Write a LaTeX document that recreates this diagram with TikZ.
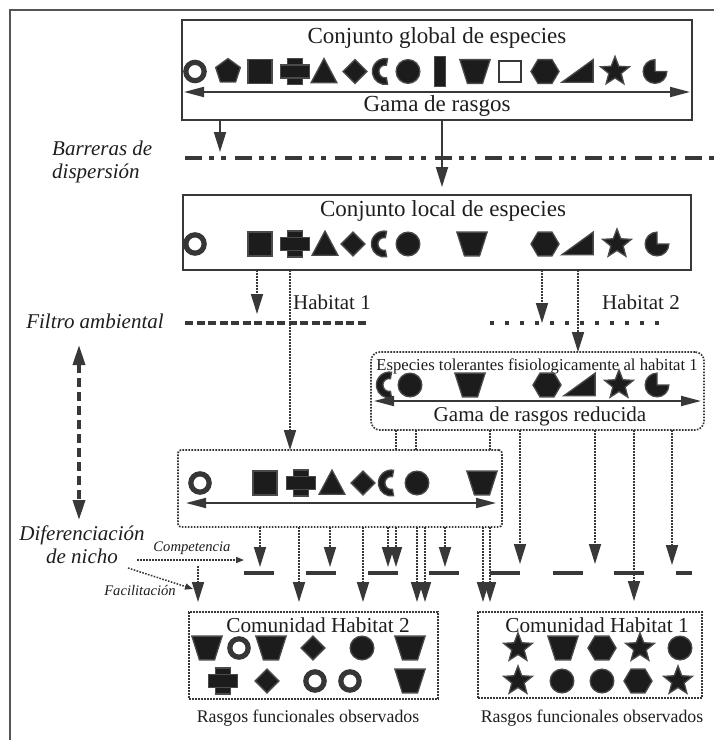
\documentclass[tikz,border=0pt]{standalone}
\usepackage{fontspec}
\setmainfont{Liberation Serif}
\usetikzlibrary{arrows.meta}
\definecolor{ln}{HTML}{383838}
\definecolor{shf}{HTML}{1C1C1C}
\definecolor{sho}{HTML}{4A4A4A}
\definecolor{ringc}{HTML}{363636}
\definecolor{txt}{HTML}{1E1E1E}
\definecolor{frm}{HTML}{555555}
\tikzset{
 every pic/.style={scale=1.08},
 shp/.style={fill=shf,draw=sho,line width=1.3pt,line join=miter},
 shRing/.pic={\draw[draw=ringc,line width=5.2pt,fill=white] (0,0) circle[radius=8.5];},
 shPent/.pic={\path[shp] (270:12)--(342:12)--(54:12)--(126:12)--(198:12)--cycle;},
 shSq/.pic={\path[shp] (-11,-11) rectangle (11,11);},
 shCross/.pic={\path[shp] (-7,-12)--(7,-12)--(7,-6)--(13.5,-6)--(13.5,6)--(7,6)--(7,12)--(-7,12)--(-7,6)--(-13.5,6)--(-13.5,-6)--(-7,-6)--cycle; \draw[draw=sho,line width=1.3pt] (-7,-6)--(7,-6) (-7,6)--(7,6);},
 shTri/.pic={\path[shp] (0,-12)--(12,10.5)--(-12,10.5)--cycle;},
 shDia/.pic={\path[shp] (0,-11)--(11,0)--(0,11)--(-11,0)--cycle;},
 shCres/.pic={\path[shp] (6.08,11.82) arc[start angle=80,end angle=280,radius=12] -- (5.04,-5.91) arc[start angle=280,end angle=80,radius=6] -- cycle;},
 shCirc/.pic={\path[shp] (0,0) circle[radius=11];},
 shTall/.pic={\path[shp] (-5,-14) rectangle (5,14);},
 shTrap/.pic={\path[shp] (-14,-11)--(14,-11)--(7,11)--(-7,11)--cycle;},
 shOsq/.pic={\draw[draw=ln,line width=2.2pt,fill=white] (-10,-10) rectangle (10,10);},
 shHex/.pic={\path[shp] (-13,0)--(-6.5,-11)--(6.5,-11)--(13,0)--(6.5,11)--(-6.5,11)--cycle;},
 shWedge/.pic={\path[shp] (-15,10)--(14,10)--(14,-11)--cycle;},
 shStar/.pic={\path[shp] (270:14)--(306:6)--(342:14)--(18:6)--(54:14)--(90:6)--(126:14)--(162:6)--(198:14)--(234:6)--cycle;},
 shPac/.pic={\path[shp] (0,0)--(11,0) arc[start angle=0,end angle=270,radius=11]--cycle;},
 box/.style={draw=ln,line width=2pt,inner sep=0pt,outer sep=0pt,anchor=north west},
 dbox/.style={draw=ln,line width=1.7pt,dash pattern=on 1.6pt off 1.4pt,inner sep=0pt,outer sep=0pt,anchor=north west},
 solarr/.style={draw=ln,line width=1.8pt,-{Triangle[length=20pt,width=12pt]}},
 dotarr/.style={draw=ln,line width=1.7pt,dash pattern=on 1.6pt off 1.4pt,-{Triangle[length=20pt,width=12pt]}},
 dotln/.style={draw=ln,line width=1.7pt,dash pattern=on 1.6pt off 1.4pt},
 smallarr/.style={draw=ln,line width=1.5pt,dash pattern=on 1.6pt off 1.4pt,-{Triangle[length=8pt,width=6pt]}},
 dbl/.style={draw=ln,line width=1.8pt,{Triangle[length=20pt,width=10pt]}-{Triangle[length=20pt,width=10pt]}},
 barline/.style={draw=ln,line width=3.8pt},
 ttl/.style={inner sep=0pt,text=txt,font=\fontsize{23}{27}\selectfont},
 hab/.style={inner sep=0pt,text=txt,font=\fontsize{21}{25}\selectfont},
 lbl/.style={inner sep=0pt,text=txt,font=\itshape\fontsize{21}{23}\selectfont},
 sml/.style={inner sep=0pt,text=txt,font=\fontsize{17.8}{21}\selectfont},
 tiny/.style={inner sep=0pt,text=txt,font=\itshape\fontsize{14.6}{17}\selectfont},
}
\begin{document}
\begin{tikzpicture}[x=1pt,y=-1pt]
\useasboundingbox (0,0) rectangle (714,740);
\fill[white] (0,0) rectangle (714,740);
\draw[line width=2pt,draw=frm] (10,740) -- (10,10) -- (714,10);

% ---------- global pool
\node[box,minimum width=510,minimum height=100] (glob) at (182,20) {};
\node[ttl] (globT) at (437,38) {Conjunto global de especies};
\pic at (195,71.5) {shRing};
\pic at (228,71.5) {shPent};
\pic at (260,71.5) {shSq};
\pic at (295,71.5) {shCross};
\pic at (324,71.5) {shTri};
\pic at (355,71.5) {shDia};
\pic at (381,71.5) {shCres};
\pic at (408,71.5) {shCirc};
\pic at (440,71.5) {shTall};
\pic at (475,71.5) {shTrap};
\pic at (510,71.5) {shOsq};
\pic at (545,71.5) {shHex};
\pic at (578,71.5) {shWedge};
\pic at (615,71.5) {shStar};
\pic at (655,71.5) {shPac};
\coordinate (gaL) at (184,92);
\coordinate (gaR) at (690,92);
\draw[dbl] (gaL) -- (gaR);
\node[ttl] (gamaT) at (437,106) {Gama de rasgos};

% ---------- dispersal barrier
\coordinate (barL) at (185,158);
\coordinate (barR) at (714,158);
\draw[draw=ln,line width=4.5pt,dash pattern=on 17pt off 7pt on 5pt off 7pt on 5pt off 9pt] (barL) -- (barR);
\node[lbl,align=left,anchor=west] (barT) at (52,162) {Barreras de\\dispersión};
\coordinate (b1) at (220,152);
\coordinate (b2) at (442,187);
\draw[solarr] (glob.south -| b1) -- (b1);
\draw[solarr] (glob.south -| b2) -- (b2);

% ---------- local pool
\node[box,minimum width=508,minimum height=75] (loc) at (183,195) {};
\node[ttl] (locT) at (443,211) {Conjunto local de especies};
\pic at (195,244) {shRing};
\pic at (260,244) {shSq};
\pic at (295,244) {shCross};
\pic at (325,244) {shTri};
\pic at (353,244) {shDia};
\pic at (380,244) {shCres};
\pic at (408,244) {shCirc};
\pic at (472,244) {shTrap};
\pic at (545,244) {shHex};
\pic at (578,244) {shWedge};
\pic at (617,244) {shStar};
\pic at (657,244) {shPac};

% ---------- environmental filter
\node[lbl] (filT) at (95,321) {Filtro ambiental};
\coordinate (h1L) at (185,323);
\coordinate (h1R) at (366,323);
\draw[draw=ln,line width=3.5pt,dash pattern=on 8pt off 3.5pt] (h1L) -- (h1R);
\node[hab] (h1T) at (332,302) {Habitat 1};
\coordinate (h2L) at (490,323);
\coordinate (h2R) at (668,323);
\draw[draw=ln,line width=4pt,dash pattern=on 4pt off 11pt] (h2L) -- (h2R);
\node[hab] (h2T) at (641,302) {Habitat 2};

\coordinate (f1) at (257,314);
\draw[dotarr] (loc.south -| f1) -- (f1);
\coordinate (f3) at (542,323);
\draw[dotarr] (loc.south -| f3) -- (f3);

% vertical double arrow
\coordinate (vaT) at (79,345);
\coordinate (vaB) at (79,520);
\draw[draw=ln,line width=3.5pt,dash pattern=on 9pt off 5pt,{Triangle[length=20pt,width=12pt]}-{Triangle[length=20pt,width=12pt]}] (vaT) -- (vaB);

% ---------- tolerant species
\node[dbox,rounded corners=9pt,minimum width=333,minimum height=78] (tol) at (371,352) {};
\node[inner sep=0pt,text=txt,font=\fontsize{16.7}{19}\selectfont] (tolT) at (537,366) {Especies tolerantes fisiologicamente al habitat 1};
\pic at (385,385) {shCres};
\pic at (410,385) {shCirc};
\pic at (470,385) {shTrap};
\pic at (547,385) {shHex};
\pic at (580,385) {shWedge};
\pic at (619,385) {shStar};
\pic at (657,385) {shPac};
\coordinate (trL) at (374,401);
\coordinate (trR) at (701,401);
\draw[dbl] (trL) -- (trR);
\node[inner sep=0pt,text=txt,font=\fontsize{21.1}{25}\selectfont] (redT) at (540,416) {Gama de rasgos reducida};
\coordinate (f4) at (578,352);
\draw[dotarr] (loc.south -| f4) -- (f4);

% ---------- mixed box
\node[dbox,rounded corners=3pt,minimum width=324,minimum height=77] (mix) at (178,450) {};
\pic at (200,483) {shRing};
\pic at (265,483) {shSq};
\pic at (301,483) {shCross};
\pic at (332,483) {shTri};
\pic at (363,483) {shDia};
\pic at (387,483) {shCres};
\pic at (417,483) {shCirc};
\pic at (482,483) {shTrap};
\coordinate (mxL) at (186,503);
\coordinate (mxR) at (496,503);
\draw[dbl] (mxL) -- (mxR);
\coordinate (f2) at (290,450);
\draw[dotarr] (loc.south -| f2) -- (f2);

% tol -> mix short links
\coordinate (s1) at (396,440);
\coordinate (s2) at (416,440);
\coordinate (s3) at (490,440);
\draw[dotln] (tol.south -| s1) -- (mix.north -| s1);
\draw[dotln] (tol.south -| s2) -- (mix.north -| s2);
\draw[dotln] (tol.south -| s3) -- (mix.north -| s3);

% ---------- niche differentiation bars
\foreach \bx/\bl in {244/30,306/30,368/30,429/30,490/30,553/30,614/30,676/16}
  \draw[barline] (\bx,573) -- ++(\bl,0);

% arrows from mix box
\coordinate (u1) at (260,567);
\coordinate (u2) at (330,567);
\coordinate (u3) at (388,567);
\coordinate (u4) at (396,567);
\coordinate (u5) at (445,567);
\foreach \t in {u1,u2,u3,u4,u5} \draw[dotarr] (mix.south -| \t) -- (\t);
\coordinate (l1) at (299,602);
\coordinate (l2) at (363,602);
\coordinate (l3) at (417,602);
\coordinate (l4) at (425,602);
\coordinate (l5) at (483,602);
\coordinate (l6) at (490,602);
\foreach \t in {l1,l2,l3,l4,l5,l6} \draw[dotarr] (mix.south -| \t) -- (\t);

% arrows from tolerant box
\coordinate (r1) at (520,564);
\coordinate (r2) at (595,564);
\coordinate (r3) at (672,565);
\coordinate (r4) at (634,601);
\foreach \t in {r1,r2,r3,r4} \draw[dotarr] (tol.south -| \t) -- (\t);

% niche labels
\node[lbl,align=center] (difT) at (82,545) {Diferenciación\\de nicho};
\node[tiny] (compT) at (192,548) {Competencia};
\node[tiny] (facT) at (140,590) {Facilitación};
\coordinate (cs) at (137,560);
\coordinate (ce) at (244,560);
\draw[smallarr] (cs) -- (ce);
\coordinate (fs) at (128,568);
\coordinate (fe) at (193,589);
\draw[smallarr] (fs) -- (fe);
\coordinate (fa) at (198,566);
\coordinate (fb) at (198,602);
\draw[dotarr] (fa) -- (fb);

% ---------- community habitat 2
\node[dbox,minimum width=249,minimum height=87] (c2) at (189,612) {};
\node[inner sep=0pt,text=txt,font=\fontsize{21.3}{25}\selectfont] (c2T) at (318,625) {Comunidad Habitat 2};
\pic at (207,648) {shTrap};
\pic at (239,648) {shRing};
\pic at (271,648) {shTrap};
\pic at (313,648) {shDia};
\pic at (362,648) {shCirc};
\pic at (410,648) {shTrap};
\pic at (223,681) {shCross};
\pic at (267,681) {shDia};
\pic at (315,681) {shRing};
\pic at (350,681) {shRing};
\pic at (410,681) {shTrap};
\node[sml] (o2T) at (308,718) {Rasgos funcionales observados};

% ---------- community habitat 1
\node[dbox,minimum width=224,minimum height=86] (c1) at (478,612) {};
\node[inner sep=0pt,text=txt,font=\fontsize{21.3}{25}\selectfont] (c1T) at (597,625) {Comunidad Habitat 1};
\pic at (518,648) {shStar};
\pic at (563,648) {shTrap};
\pic at (602,648) {shHex};
\pic at (640,648) {shStar};
\pic at (680,648) {shCirc};
\pic at (518,681) {shStar};
\pic at (562,681) {shCirc};
\pic at (602,681) {shCirc};
\pic at (638,681) {shHex};
\pic at (678,681) {shStar};
\node[sml] (o1T) at (592,718) {Rasgos funcionales observados};
\end{tikzpicture}
\end{document}
